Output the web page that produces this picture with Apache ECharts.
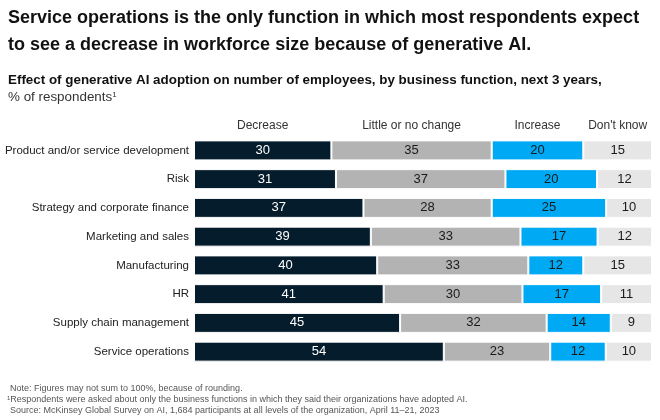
<!DOCTYPE html>
<html><head><meta charset="utf-8">
<script src="https://cdn.jsdelivr.net/npm/echarts@6/dist/echarts.min.js"></script>
<style>html,body{margin:0;padding:0;background:#fff}#c{width:660px;height:420px}</style>
</head><body><div id="c"></div>
<script>
const categories = ["Product and/or service development","Risk","Strategy and corporate finance","Marketing and sales","Manufacturing","HR","Supply chain management","Service operations"];
const seriesNames = ["Decrease","Little or no change","Increase","Don't know"];
const decrease = [30,31,37,39,40,41,45,54];
const littleChange = [35,37,28,33,33,30,32,23];
const increase = [20,20,25,17,12,17,14,12];
const dontKnow = [15,12,10,12,15,11,9,10];

const raw = [decrease, littleChange, increase, dontKnow];
const colors = ['#051c2c','#b3b3b3','#00a9f4','#e6e6e6'];
const labelColors = ['#ffffff','#1a1a1a','#1a1a1a','#1a1a1a'];
const totals = categories.map((c,i)=>raw.reduce((s,a)=>s+a[i],0));
const FONT = 'Liberation Sans, Arial, sans-serif';

const chart = echarts.init(document.getElementById('c'));
const series = raw.map((arr,k)=>({
  name: seriesNames[k], type:'bar', stack:'t', barWidth:20,
  data: arr.map((v,i)=>({value: v*100/totals[i], raw:v})),
  itemStyle:{color:colors[k], borderColor:'#fff', borderWidth:1},
  label:{show:true, position:'inside', color:labelColors[k], fontSize:13, fontFamily:FONT,
    formatter:p=>String(p.data.raw)},
  silent:true
}));
const baseGraphic = [
  {id:'t1',type:'text',left:8,top:5,style:{text:'Service operations is the only function in which most respondents expect\nto see a decrease in workforce size because of generative AI.',
    font:'bold 18px '+FONT,fill:'#111',lineHeight:27}},
  {id:'t2',type:'text',left:8,top:74,style:{text:'Effect of generative AI adoption on number of employees, by business function, next 3 years,',
    font:'bold 13.4px '+FONT,fill:'#111'}},
  {id:'t3',type:'text',left:8,top:91,style:{text:'{a|% of respondents}{s|1}',fill:'#333',
    rich:{a:{fontSize:13.4,fontFamily:FONT,fill:'#333'},s:{fontSize:8,fontFamily:FONT,fill:'#333',verticalAlign:'top'}}}},
  {id:'f1',type:'text',left:10,top:384,style:{text:'Note: Figures may not sum to 100%, because of rounding.',font:'9px '+FONT,fill:'#555'}},
  {id:'f2',type:'text',left:7,top:395,style:{text:'{s|1}{a|Respondents were asked about only the business functions in which they said their organizations have adopted AI.}',fill:'#555',
    rich:{a:{fontSize:9,fontFamily:FONT,fill:'#555'},s:{fontSize:6,fontFamily:FONT,fill:'#555',verticalAlign:'top'}}}},
  {id:'f3',type:'text',left:10,top:406,style:{text:'Source: McKinsey Global Survey on AI, 1,684 participants at all levels of the organization, April 11–21, 2023',font:'9px '+FONT,fill:'#555'}}
];
chart.setOption({
  animation:false,
  grid:{left:194,right:8,top:136,bottom:54,outerBoundsMode:'none',containLabel:false},
  xAxis:{type:'value',min:0,max:100,show:false},
  yAxis:{type:'category',data:categories,inverse:true,
    axisLine:{show:false},axisTick:{show:false},
    axisLabel:{color:'#222',fontSize:11.5,fontFamily:FONT,margin:5}},
  series:series,
  graphic:baseGraphic
});
// column headers centered over first row's segments
let cum=0; const hdr=[];
raw.forEach((arr,k)=>{
  const v = arr[0]*100/totals[0];
  const x = chart.convertToPixel({xAxisIndex:0}, cum + v/2);
  cum += v;
  hdr.push({id:'h'+k,type:'text',x:x,y:120,style:{text:seriesNames[k],font:'12px '+FONT,fill:'#333',textAlign:'center'}});
});
chart.setOption({graphic:baseGraphic.concat(hdr)});
</script></body></html>
